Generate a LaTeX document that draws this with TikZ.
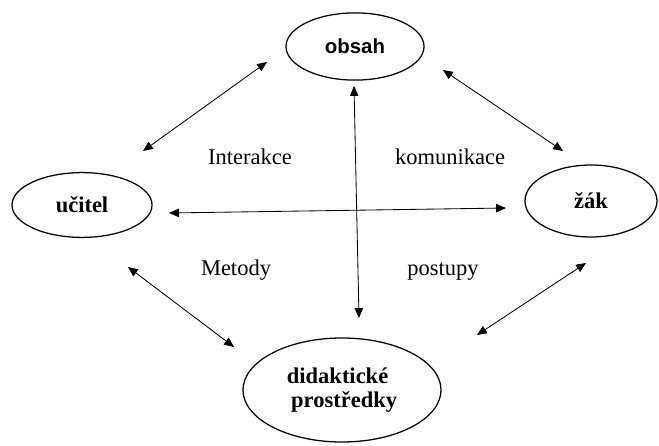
\documentclass[tikz,border=0pt]{standalone}
\usepackage{fontspec}
\setmainfont{Liberation Serif}
\newfontfamily\obsahfont{Liberation Sans}
\usepackage{tikz}
\usetikzlibrary{arrows.meta}
\usetikzlibrary{shapes.geometric}
\usetikzlibrary{positioning}
\begin{document}
\begin{tikzpicture}[x=0.025cm, y=-0.025cm,
	pojem/.style={ellipse,draw=black,line width=0.9pt,inner sep=0pt,font=\fontsize{16}{18}\selectfont\bfseries},
	vazba/.style={{Triangle[length=7pt,width=6pt]}-{Triangle[length=7pt,width=6pt]},line width=0.6pt},
	popis/.style={font=\fontsize{16}{18}\selectfont}]
	\useasboundingbox (0,0) rectangle (659,446);

	% ellipse nodes
	\node[pojem,minimum width=3.45cm,minimum height=1.68cm,font=\obsahfont\fontsize{14.5}{17}\selectfont\bfseries] (obsah) at (355,46.5) {obsah};
	\node[pojem,minimum width=3.5cm,minimum height=1.62cm] (ucitel) at (82,205) {učitel};
	\node[pojem,minimum width=3.3cm,minimum height=1.8cm] (zak) at (591,201) {žák};
	\node[pojem,minimum width=4.95cm,minimum height=2.6cm,align=left] (prostredky) at (342,390) {didaktické\\[-1pt]\hspace*{3pt}prostředky};

	% arrow end coordinates
	\coordinate (UO1) at (143,151);
	\coordinate (UO2) at (267,62);
	\coordinate (OZ1) at (443,70);
	\coordinate (OZ2) at (563,151);
	\coordinate (UZ1) at (169,213);
	\coordinate (UZ2) at (506,208);
	\coordinate (OP1) at (354,86);
	\coordinate (OP2) at (359,318);
	\coordinate (UP1) at (128,267);
	\coordinate (UP2) at (234,347);
	\coordinate (ZP1) at (586,263);
	\coordinate (ZP2) at (477,335);

	% arrows
	\foreach \a in {UO, OZ, UZ, OP, UP, ZP}
	\draw[vazba] (\a1) -- (\a2);

	% labels
	\node[popis] (interakce) at (250,157) {Interakce};
	\node[popis] (komunikace) at (450,157) {komunikace};
	\node[popis] (metody) at (236,270) {Metody};
	\node[popis] (postupy) at (443,272) {postupy};

\end{tikzpicture}
\end{document}
